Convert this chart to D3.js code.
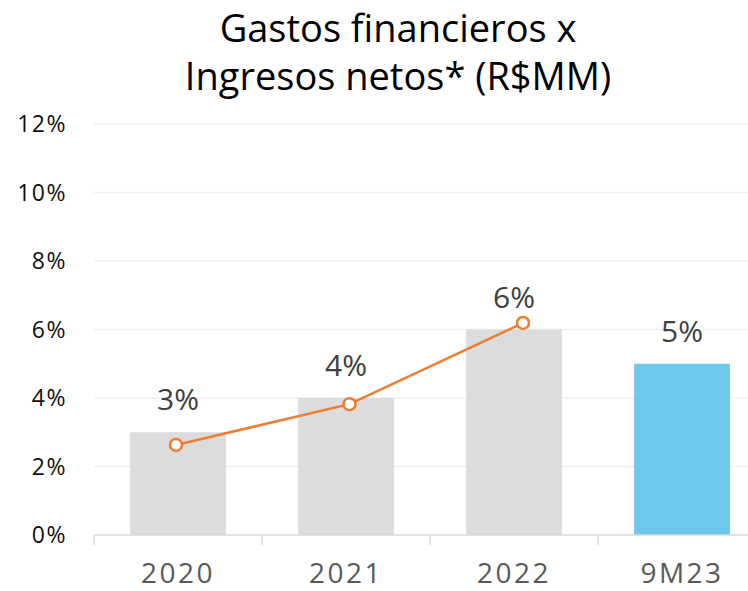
<!DOCTYPE html>
<html><head><meta charset="utf-8">
<script src="https://cdn.jsdelivr.net/npm/d3@7"></script>
<style>body{margin:0;background:#fff}svg{display:block}</style>
</head><body>
<svg id="c" width="748" height="591"></svg>
<script>
const categories = ["2020","2021","2022","9M23"];
const barValues = [3,4,6,5];
const barLabels = ["3%","4%","6%","5%"];
const lineValues = [2.63,3.82,6.19];
const yTicks = [0,2,4,6,8,10,12];
const titleLines = ["Gastos financieros x","Ingresos netos* (R$MM)"];
const barColors = ["#dcdcdc","#dcdcdc","#dcdcdc","#6cc8ec"];

const svg = d3.select("#c");
const font = "'Open Sans', 'Noto Sans', sans-serif";
const x = d3.scaleBand().domain(categories).range([94,766]).paddingInner(0.43).paddingOuter(0.215);
const xLine = d3.scalePoint().domain(categories).range([176,696.5]);
const y = d3.scaleLinear().domain([0,12]).range([535,124]);

// gridlines
svg.append("g").selectAll("line").data(yTicks.filter(d=>d>0)).join("line")
  .attr("x1",94).attr("x2",748).attr("y1",d=>y(d)).attr("y2",d=>y(d))
  .attr("stroke","#efefef").attr("stroke-width",1.5);

// y labels
svg.append("g").selectAll("text").data(yTicks).join("text")
  .attr("x",67).attr("y",d=>y(d)+8).attr("text-anchor","end")
  .attr("font-family",font).attr("font-size",23).attr("letter-spacing",1.5).attr("fill","#111")
  .text(d=>d+"%");

// bars
svg.append("g").selectAll("rect").data(categories).join("rect")
  .attr("x",d=>x(d)).attr("width",x.bandwidth())
  .attr("y",(d,i)=>y(barValues[i])).attr("height",(d,i)=>y(0)-y(barValues[i]))
  .attr("fill",(d,i)=>barColors[i]);

// x axis
const ax = svg.append("g").attr("transform","translate(0,535)");
ax.append("line").attr("x1",94).attr("x2",748).attr("stroke","#d9d9d9").attr("stroke-width",1.5);
ax.selectAll("line.t").data(categories).join("line").attr("class","t")
  .attr("x1",d=>x(d)-(x.step()-x.bandwidth())/2).attr("x2",d=>x(d)-(x.step()-x.bandwidth())/2)
  .attr("y1",0).attr("y2",10).attr("stroke","#d9d9d9").attr("stroke-width",1.5);
ax.selectAll("text").data(categories).join("text")
  .attr("x",d=>x(d)+x.bandwidth()/2).attr("y",48).attr("text-anchor","middle")
  .attr("font-family",font).attr("font-size",28).attr("letter-spacing",2.5).attr("fill","#595959")
  .text(d=>d);

// line
const line = d3.line().x((d,i)=>xLine(categories[i])).y(d=>y(d));
svg.append("path").datum(lineValues).attr("d",line)
  .attr("fill","none").attr("stroke","#ed7d31").attr("stroke-width",2.5);
svg.append("g").selectAll("circle").data(lineValues).join("circle")
  .attr("cx",(d,i)=>xLine(categories[i])).attr("cy",d=>y(d)).attr("r",6)
  .attr("fill","#fff").attr("stroke","#ed7d31").attr("stroke-width",2.5);

// bar labels
svg.append("g").selectAll("text").data(categories).join("text")
  .attr("x",d=>x(d)+x.bandwidth()/2).attr("y",(d,i)=>y(barValues[i])-22)
  .attr("text-anchor","middle").attr("font-family",font).attr("font-size",30).attr("fill","#404040")
  .text((d,i)=>barLabels[i]);

// title
svg.append("g").selectAll("text").data(titleLines).join("text")
  .attr("x",398).attr("y",(d,i)=>42+i*48).attr("text-anchor","middle")
  .attr("font-family",font).attr("font-size",38).attr("fill","#000")
  .text(d=>d);
</script>
</body></html>
